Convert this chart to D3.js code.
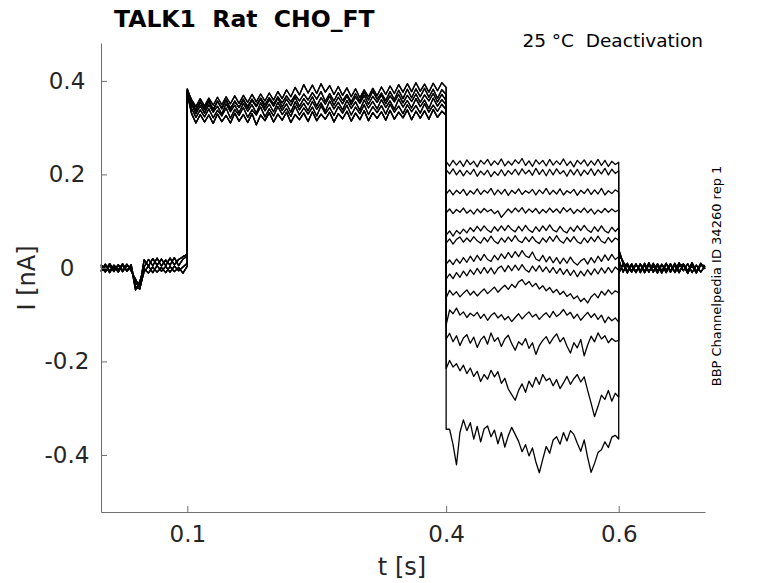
<!DOCTYPE html>
<html>
<head>
<meta charset="utf-8">
<script src="https://cdn.jsdelivr.net/npm/d3@7"></script>
<style>
  body { margin: 0; background: #fff; }
  text { font-family: "DejaVu Sans", sans-serif; }
</style>
</head>
<body>
<div id="chart"></div>
<script>
// protocol segments [start, end] in s
const holdSpan = [0, 0.1];
const preSpan = [0.1, 0.4];
const testSpan = [0.4, 0.6];
const tailSpan = [0.6, 0.7];

const xTicks = [0.1, 0.4, 0.6];
const xTickLabels = ["0.1", "0.4", "0.6"];
const yTicks = [-0.4, -0.2, 0, 0.2, 0.4];
const yTickLabels = ["-0.4", "-0.2", "0", "0.2", "0.4"];

// holding current (nA), 4 overlapping sweeps
const hold0 = [0.007,-0.006,0.009,-0.004,0.006,-0.008,0.005,-0.002,-0.033,-0.038,0.017,0.004,0.020,0.006,0.019,0.005,0.021,0.007,0.018,0.024,0.029];
const hold1 = [-0.006,0.008,-0.007,0.006,-0.004,0.009,-0.006,0.007,-0.041,-0.045,0.002,0.018,0.005,0.021,0.004,0.017,0.006,0.022,0.005,0.019,0.025];
const hold2 = [0.003,-0.009,0.005,-0.008,0.007,-0.005,0.008,-0.007,-0.024,-0.043,-0.008,0.004,-0.010,0.005,-0.007,0.003,-0.009,0.004,-0.006,0.002,0.010];
const hold3 = [-0.008,0.005,-0.010,0.004,-0.009,0.006,-0.007,0.003,-0.047,-0.028,-0.002,-0.011,0.002,-0.009,0.001,-0.010,0.003,-0.008,0.001,-0.011,0.004];

// pre-pulse current, 6 sweeps of the band
const pre0 = [0.372,0.330,0.310,0.328,0.312,0.327,0.309,0.329,0.313,0.326,0.310,0.331,0.314,0.328,0.311,0.330,0.306,0.327,0.315,0.332,0.312,0.329,0.316,0.333,0.311,0.328,0.317,0.331,0.313,0.334,0.315,0.329,0.318,0.333,0.312,0.330,0.319,0.335,0.314,0.331,0.317,0.336,0.315,0.332,0.320,0.334,0.316,0.337,0.318,0.333,0.321,0.338,0.317,0.335,0.320,0.336,0.318,0.339,0.322,0.335,0.327];
const pre1 = [0.380,0.341,0.322,0.338,0.323,0.340,0.321,0.337,0.325,0.342,0.320,0.339,0.326,0.343,0.322,0.338,0.327,0.344,0.323,0.340,0.325,0.345,0.328,0.341,0.324,0.346,0.327,0.342,0.329,0.344,0.325,0.347,0.330,0.343,0.326,0.345,0.331,0.348,0.327,0.344,0.330,0.349,0.328,0.345,0.332,0.347,0.329,0.350,0.333,0.346,0.330,0.349,0.334,0.347,0.331,0.351,0.333,0.348,0.335,0.350,0.338];
const pre2 = [0.376,0.350,0.330,0.347,0.331,0.349,0.333,0.346,0.329,0.351,0.334,0.348,0.332,0.352,0.335,0.349,0.331,0.353,0.336,0.350,0.334,0.354,0.337,0.351,0.333,0.355,0.338,0.352,0.336,0.356,0.339,0.353,0.335,0.357,0.340,0.354,0.338,0.358,0.341,0.355,0.337,0.359,0.342,0.356,0.340,0.360,0.343,0.357,0.339,0.361,0.344,0.358,0.342,0.362,0.345,0.359,0.341,0.363,0.346,0.360,0.349];
const pre3 = [0.383,0.357,0.338,0.355,0.340,0.358,0.337,0.356,0.342,0.359,0.339,0.357,0.343,0.361,0.341,0.358,0.345,0.362,0.342,0.360,0.346,0.363,0.344,0.361,0.347,0.365,0.345,0.362,0.349,0.366,0.346,0.364,0.350,0.367,0.348,0.365,0.351,0.368,0.349,0.366,0.352,0.369,0.350,0.367,0.354,0.370,0.351,0.368,0.355,0.371,0.353,0.369,0.356,0.372,0.354,0.370,0.357,0.373,0.355,0.371,0.358];
const pre4 = [0.378,0.360,0.345,0.362,0.346,0.363,0.348,0.365,0.349,0.366,0.351,0.368,0.352,0.369,0.354,0.371,0.355,0.372,0.357,0.374,0.359,0.377,0.362,0.381,0.366,0.386,0.370,0.392,0.374,0.391,0.373,0.394,0.376,0.390,0.371,0.388,0.369,0.385,0.366,0.383,0.364,0.381,0.366,0.384,0.368,0.387,0.371,0.389,0.373,0.392,0.376,0.394,0.377,0.396,0.378,0.393,0.376,0.395,0.379,0.396,0.386];
const pre5 = [0.381,0.353,0.336,0.354,0.338,0.356,0.339,0.357,0.340,0.359,0.342,0.355,0.344,0.358,0.346,0.361,0.347,0.363,0.349,0.364,0.351,0.366,0.353,0.368,0.355,0.370,0.357,0.372,0.359,0.375,0.361,0.377,0.356,0.373,0.357,0.375,0.358,0.371,0.355,0.373,0.357,0.376,0.359,0.378,0.361,0.374,0.358,0.377,0.360,0.380,0.362,0.382,0.364,0.383,0.366,0.384,0.365,0.382,0.363,0.381,0.371];

// test-pulse current, one per sweep (13 sweeps, top to bottom)
const test1 = [0.227,0.218,0.230,0.220,0.229,0.217,0.231,0.221,0.228,0.216,0.230,0.222,0.232,0.219,0.229,0.221,0.233,0.218,0.228,0.220,0.231,0.223,0.234,0.219,0.229,0.217,0.231,0.222,0.230,0.218,0.232,0.220,0.229,0.221,0.233,0.219,0.228,0.216,0.230,0.222,0.231,0.218,0.229,0.220,0.232,0.219,0.230,0.217,0.228,0.221,0.226];
const test2 = [0.210,0.201,0.212,0.199,0.209,0.197,0.208,0.200,0.211,0.196,0.207,0.199,0.209,0.195,0.206,0.198,0.210,0.197,0.208,0.200,0.211,0.199,0.212,0.201,0.209,0.198,0.213,0.200,0.210,0.197,0.211,0.199,0.212,0.201,0.208,0.196,0.210,0.199,0.211,0.197,0.209,0.200,0.212,0.198,0.210,0.201,0.213,0.199,0.211,0.202,0.208];
const test3 = [0.158,0.167,0.156,0.166,0.159,0.168,0.155,0.165,0.158,0.169,0.157,0.166,0.160,0.170,0.156,0.167,0.158,0.168,0.155,0.166,0.159,0.169,0.157,0.165,0.160,0.168,0.156,0.167,0.159,0.170,0.157,0.166,0.158,0.169,0.156,0.165,0.160,0.168,0.155,0.166,0.159,0.169,0.157,0.167,0.158,0.170,0.156,0.165,0.159,0.167,0.162];
const test4 = [0.118,0.126,0.116,0.125,0.119,0.128,0.117,0.124,0.115,0.126,0.118,0.127,0.120,0.125,0.116,0.122,0.108,0.117,0.126,0.118,0.128,0.120,0.129,0.117,0.126,0.119,0.127,0.116,0.125,0.118,0.128,0.119,0.126,0.117,0.129,0.120,0.127,0.116,0.125,0.119,0.128,0.118,0.126,0.115,0.124,0.118,0.127,0.119,0.126,0.120,0.124];
const test5 = [0.070,0.079,0.068,0.080,0.073,0.083,0.075,0.086,0.078,0.089,0.079,0.090,0.081,0.076,0.088,0.079,0.090,0.080,0.091,0.082,0.077,0.089,0.079,0.091,0.081,0.076,0.088,0.078,0.090,0.080,0.092,0.081,0.077,0.089,0.079,0.075,0.087,0.078,0.090,0.080,0.091,0.081,0.076,0.088,0.078,0.090,0.079,0.075,0.087,0.078,0.086];
const test6 = [0.053,0.062,0.051,0.061,0.066,0.055,0.064,0.056,0.067,0.058,0.053,0.065,0.056,0.068,0.057,0.052,0.064,0.055,0.066,0.057,0.069,0.058,0.054,0.066,0.056,0.067,0.057,0.052,0.064,0.055,0.067,0.057,0.069,0.058,0.053,0.065,0.056,0.067,0.056,0.052,0.064,0.054,0.066,0.056,0.068,0.057,0.053,0.065,0.055,0.064,0.059];
const test7 = [0.008,0.017,0.007,0.019,0.010,0.022,0.012,0.025,0.014,0.027,0.016,0.029,0.018,0.014,0.027,0.017,0.030,0.020,0.033,0.022,0.035,0.024,0.037,0.026,0.022,0.034,0.019,0.015,0.027,0.013,0.024,0.011,0.022,0.009,0.021,0.010,0.023,0.012,0.006,0.015,0.020,0.008,0.022,0.011,0.025,0.014,0.028,0.016,0.029,0.018,0.024];
const test8 = [-0.024,-0.013,-0.023,-0.010,-0.020,-0.007,-0.017,-0.004,-0.014,-0.001,-0.012,0.001,-0.011,0.000,-0.013,-0.001,0.004,-0.008,0.005,-0.006,0.006,-0.005,0.007,-0.004,-0.009,0.004,-0.007,0.005,-0.008,0.002,-0.010,0.001,-0.012,-0.001,-0.014,-0.003,-0.016,-0.005,-0.019,-0.007,-0.017,-0.004,-0.015,-0.002,-0.013,0.000,-0.011,0.001,-0.010,0.002,-0.005];
const test9 = [-0.064,-0.048,-0.058,-0.051,-0.062,-0.054,-0.047,-0.058,-0.050,-0.060,-0.052,-0.045,-0.055,-0.048,-0.041,-0.052,-0.044,-0.037,-0.046,-0.035,-0.042,-0.030,-0.025,-0.036,-0.029,-0.040,-0.033,-0.045,-0.038,-0.049,-0.042,-0.053,-0.046,-0.057,-0.050,-0.061,-0.055,-0.066,-0.060,-0.072,-0.065,-0.075,-0.062,-0.055,-0.064,-0.050,-0.058,-0.047,-0.056,-0.049,-0.053];
const test10 = [-0.122,-0.090,-0.098,-0.086,-0.101,-0.094,-0.106,-0.097,-0.103,-0.095,-0.108,-0.099,-0.112,-0.102,-0.096,-0.107,-0.100,-0.111,-0.104,-0.115,-0.106,-0.098,-0.109,-0.101,-0.094,-0.105,-0.099,-0.110,-0.102,-0.096,-0.106,-0.093,-0.104,-0.098,-0.089,-0.101,-0.095,-0.108,-0.099,-0.112,-0.103,-0.095,-0.106,-0.098,-0.110,-0.101,-0.117,-0.105,-0.113,-0.107,-0.116];
const test11 = [-0.152,-0.140,-0.158,-0.145,-0.166,-0.150,-0.143,-0.161,-0.148,-0.170,-0.154,-0.146,-0.163,-0.139,-0.157,-0.149,-0.168,-0.152,-0.144,-0.162,-0.176,-0.158,-0.165,-0.151,-0.172,-0.160,-0.185,-0.166,-0.155,-0.147,-0.162,-0.150,-0.141,-0.158,-0.149,-0.167,-0.182,-0.160,-0.171,-0.153,-0.188,-0.165,-0.146,-0.158,-0.139,-0.152,-0.145,-0.160,-0.151,-0.157,-0.155];
const test12 = [-0.215,-0.198,-0.212,-0.205,-0.220,-0.208,-0.226,-0.214,-0.232,-0.221,-0.243,-0.228,-0.238,-0.219,-0.233,-0.222,-0.247,-0.236,-0.259,-0.271,-0.283,-0.262,-0.248,-0.266,-0.242,-0.255,-0.234,-0.249,-0.228,-0.241,-0.236,-0.252,-0.239,-0.258,-0.246,-0.232,-0.249,-0.237,-0.228,-0.244,-0.233,-0.262,-0.289,-0.318,-0.296,-0.272,-0.281,-0.262,-0.285,-0.268,-0.276];
const test13 = [-0.345,-0.345,-0.378,-0.421,-0.352,-0.325,-0.348,-0.331,-0.366,-0.339,-0.372,-0.344,-0.338,-0.361,-0.347,-0.376,-0.352,-0.383,-0.359,-0.341,-0.356,-0.371,-0.393,-0.378,-0.402,-0.385,-0.415,-0.438,-0.409,-0.382,-0.396,-0.368,-0.361,-0.377,-0.352,-0.370,-0.348,-0.356,-0.375,-0.392,-0.368,-0.405,-0.437,-0.418,-0.395,-0.389,-0.372,-0.384,-0.362,-0.358,-0.366];

// tail current after the test pulse, 4 sweeps
const tail0 = [0.030,0.014,-0.008,0.009,-0.009,0.008,-0.010,0.007,-0.008,0.009,-0.007,0.010,-0.009,0.006,-0.010,0.008,-0.007,0.011,-0.008,0.007,-0.002];
const tail1 = [0.018,-0.009,0.010,-0.007,0.009,-0.010,0.006,-0.009,0.010,-0.006,0.008,-0.010,0.007,-0.008,0.011,-0.006,0.009,-0.010,0.006,-0.009,0.004];
const tail2 = [-0.012,0.008,-0.011,0.006,-0.010,0.009,-0.007,0.011,-0.009,0.005,-0.011,0.008,-0.006,0.010,-0.008,0.006,-0.012,0.007,-0.009,0.010,-0.001];
const tail3 = [0.040,0.010,0.005,-0.009,0.007,-0.006,0.010,-0.008,0.005,-0.011,0.007,-0.005,0.009,-0.010,0.004,0.008,-0.007,0.005,-0.011,0.006,0.005];

const holds = [hold0, hold1, hold2, hold3];
const pres = [pre0, pre1, pre2, pre3, pre4, pre5];
const tests = [test1, test2, test3, test4, test5, test6, test7, test8, test9, test10, test11, test12, test13];
const tails = [tail0, tail1, tail2, tail3];

const W = 778, H = 583;

const svg = d3.select("#chart").append("svg")
  .attr("width", W)
  .attr("height", H);

const x = d3.scaleLinear().domain([0, 0.7]).range([101, 705]);
const y = d3.scaleLinear().domain([-0.522, 0.481]).range([512, 43]);

// samples spread evenly across their segment
function seg(vals, span) {
  const n = vals.length - 1;
  return vals.map((v, i) => [span[0] + (span[1] - span[0]) * i / n, v]);
}

const sweeps = tests.map((t, i) =>
  seg(holds[i % 4], holdSpan)
    .concat(seg(pres[i % 6], preSpan))
    .concat(seg(t, testSpan))
    .concat(seg(tails[i % 4], tailSpan))
);

const line = d3.line()
  .x(d => x(d[0]))
  .y(d => y(d[1]));

svg.append("g")
  .selectAll("path")
  .data(sweeps)
  .join("path")
  .attr("fill", "none")
  .attr("stroke", "#000")
  .attr("stroke-width", 1.3)
  .attr("stroke-linejoin", "round")
  .attr("d", line);

// axes
const axisColor = "#6e6e6e";

const gy = svg.append("g")
  .attr("transform", "translate(101,0)")
  .call(d3.axisLeft(y)
    .tickValues(yTicks)
    .tickSize(-6)
    .tickSizeOuter(0)
    .tickFormat((d, i) => yTickLabels[i]));

gy.selectAll("text")
  .attr("x", -34)
  .attr("text-anchor", "middle")
  .style("font-size", "23px");

const gx = svg.append("g")
  .attr("transform", "translate(0,512)")
  .call(d3.axisBottom(x)
    .tickValues(xTicks)
    .tickSize(-6)
    .tickSizeOuter(0)
    .tickFormat((d, i) => xTickLabels[i]));

gx.selectAll("text")
  .attr("y", 14)
  .style("font-size", "23px");

svg.selectAll(".domain, .tick line")
  .attr("stroke", axisColor)
  .attr("stroke-width", 1);
svg.selectAll(".tick text")
  .attr("fill", "#262626")
  .style("font-family", "DejaVu Sans");

// labels
svg.append("text")
  .attr("x", 402)
  .attr("y", 575)
  .attr("text-anchor", "middle")
  .attr("fill", "#262626")
  .style("font-size", "24px")
  .text("t [s]");

svg.append("text")
  .attr("transform", "translate(35,278) rotate(-90)")
  .attr("text-anchor", "middle")
  .attr("fill", "#262626")
  .style("font-size", "24px")
  .text("I [nA]");

svg.append("text")
  .attr("x", 114)
  .attr("y", 27)
  .attr("fill", "#000")
  .style("font-size", "23.5px")
  .style("font-weight", "bold")
  .style("white-space", "pre")
  .text("TALK1  Rat  CHO_FT");

svg.append("text")
  .attr("x", 703)
  .attr("y", 47)
  .attr("text-anchor", "end")
  .attr("fill", "#000")
  .style("font-size", "18.5px")
  .style("white-space", "pre")
  .text("25 °C  Deactivation");

svg.append("text")
  .attr("transform", "translate(721,276) rotate(-90)")
  .attr("text-anchor", "middle")
  .attr("fill", "#000")
  .style("font-size", "13px")
  .text("BBP Channelpedia ID 34260 rep 1");
</script>
</body>
</html>
